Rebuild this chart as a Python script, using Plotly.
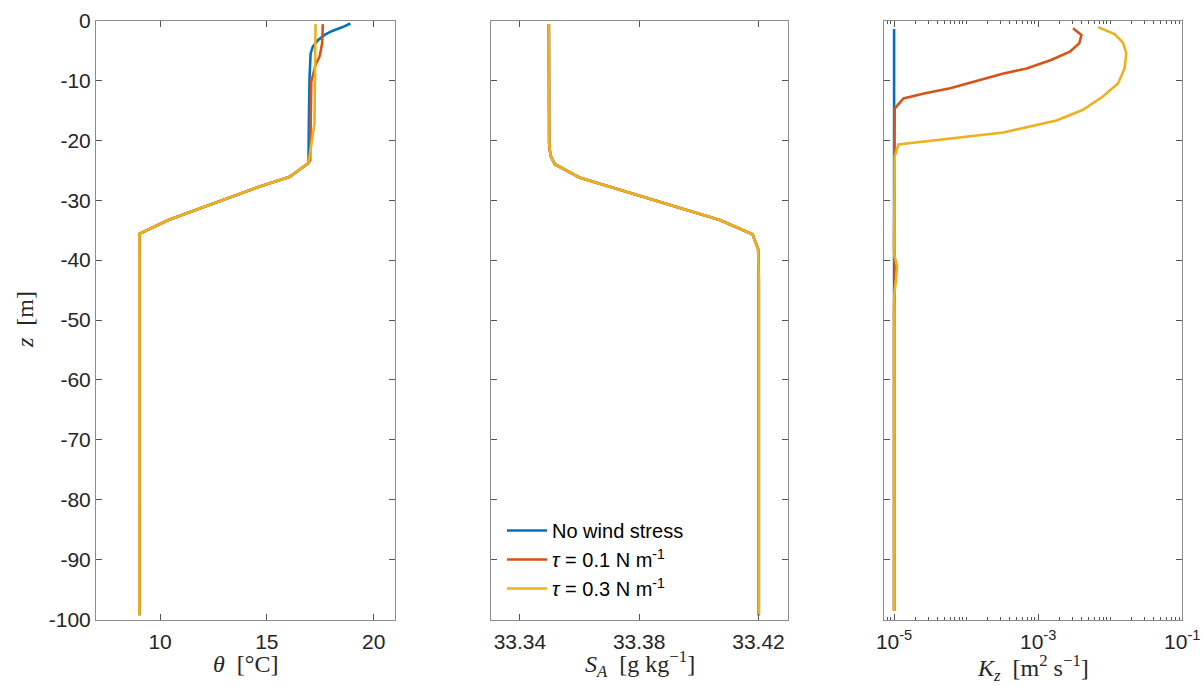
import plotly.graph_objects as go

# ---------------- data ----------------
names = ["No wind stress", "τ = 0.1 N m-1", "τ = 0.3 N m-1"]
legend_text = ["No wind stress",
               "<i>τ</i> = 0.1 N m<sup>-1</sup>",
               "<i>τ</i> = 0.3 N m<sup>-1</sup>"]
colors = ["#0072BD", "#D95319", "#EDB120"]

# Panel 1: potential temperature
z_theta_none = [-0.5, -1.1, -1.7, -2.4, -3.3, -4.4, -5.5, -9.4, -16.0, -23.8,
                -26.1, -27.7, -33.3, -35.6, -99.3]
theta_none = [18.91, 18.55, 18.09, 17.70, 17.39, 17.15, 17.05, 17.00, 16.97, 16.95,
              16.07, 14.67, 10.39, 9.03, 9.03]
z_theta_01 = [-0.6, -3.8, -6.0, -7.4, -10.2, -23.3, -23.8,
              -26.1, -27.7, -33.3, -35.6, -99.3]
theta_01 = [17.62, 17.59, 17.47, 17.28, 17.08, 17.03, 16.95,
            16.07, 14.67, 10.39, 9.03, 9.03]
z_theta_03 = [-0.6, -17.2, -23.8,
              -26.1, -27.7, -33.3, -35.6, -99.3]
theta_03 = [17.28, 17.23, 16.95,
            16.07, 14.67, 10.39, 9.03, 9.03]

# Panel 2: absolute salinity (identical for all cases)
z_salt = [-0.6, -18.0, -20.5, -21.6, -22.7, -24.0, -26.2, -33.3, -35.7, -38.2, -43.0, -99.3]
salt = [33.3497, 33.3497, 33.3498, 33.3500, 33.3504, 33.3517, 33.3599,
        33.4070, 33.4180, 33.4199, 33.4201, 33.4201]

# Panel 3: vertical diffusivity
z_kz_none = [-1.43, -14.29, -98.57]
kz_none = [1.0e-5, 1.0e-5, 1.0e-5]
z_kz_01 = [-1.3, -2.42, -3.8, -5.2, -6.6, -8.0, -8.9, -9.9, -11.3, -12.2, -13.0, -14.7,
           -38.0, -42.0, -48.0, -98.57]
kz_01 = [3.04e-3, 3.98e-3, 3.72e-3, 2.75e-3, 1.51e-3, 6.9e-4, 3.2e-4, 1.55e-4,
         6.0e-5, 2.6e-5, 1.35e-5, 1.02e-5, 1.0e-5, 1.03e-5, 1.0e-5, 1.0e-5]
z_kz_03 = [-1.1, -2.25, -3.7, -5.5, -8.0, -10.5, -12.7, -14.9, -16.7, -18.7, -20.7, -22.7,
           -39.0, -41.0, -43.0, -46.0, -98.57]
kz_03 = [6.76e-3, 1.15e-2, 1.50e-2, 1.67e-2, 1.58e-2, 1.28e-2, 7.9e-3, 4.19e-3,
         1.79e-3, 3.27e-4, 1.15e-5, 1.02e-5, 1.0e-5, 1.1e-5, 1.07e-5, 1.0e-5, 1.0e-5]

theta_sets = [(theta_none, z_theta_none), (theta_01, z_theta_01), (theta_03, z_theta_03)]
salt_sets = [(salt, z_salt)] * 3
kz_sets = [(kz_none, z_kz_none), (kz_01, z_kz_01), (kz_03, z_kz_03)]

theta_ticks = [10, 15, 20]
salt_ticks = [33.34, 33.38, 33.42]
salt_ticktext = ["33.34", "33.38", "33.42"]
kz_ticks = [1e-5, 1e-3, 1e-1]
kz_ticktext = ["10<sup>-5</sup>", "10<sup>-3</sup>", "10<sup>-1</sup>"]
z_ticks = list(range(-100, 1, 10))
z_ticktext = [str(v) for v in z_ticks]

# ---------------- figure ----------------
W, H = 1203, 686
fig = go.Figure()
LW = 2.6

for i in range(3):
    x, z = theta_sets[i]
    fig.add_trace(go.Scatter(x=x, y=z, mode="lines", line=dict(color=colors[i], width=LW),
                             xaxis="x", yaxis="y", showlegend=False, hoverinfo="skip"))
for i in range(3):
    x, z = salt_sets[i]
    fig.add_trace(go.Scatter(x=x, y=z, mode="lines", line=dict(color=colors[i], width=LW),
                             xaxis="x2", yaxis="y2", name=legend_text[i], showlegend=True))
for i in range(3):
    x, z = kz_sets[i]
    fig.add_trace(go.Scatter(x=x, y=z, mode="lines", line=dict(color=colors[i], width=LW),
                             xaxis="x3", yaxis="y3", showlegend=False))

def px_x(p):
    return p / W

def px_y(p):
    return 1 - p / H

dom_y = [px_y(619.5), px_y(20.5)]
doms_x = [[px_x(96), px_x(395)], [px_x(490.7), px_x(788.3)], [px_x(884), px_x(1182.3)]]

tickfont = dict(family="Liberation Sans, Arial, sans-serif", size=21, color="#262626")
axcommon = dict(showgrid=False, zeroline=False, showline=True, linecolor="#8c8c8c",
                linewidth=1, mirror="ticks", ticks="inside", ticklen=6,
                tickcolor="#555555", tickwidth=1, tickfont=tickfont, automargin=False)
xcommon = dict(ticklabelstandoff=3, **axcommon)

minor_kz = [m * 10 ** e for e in range(-6, -1) for m in range(2, 10)] + [1e-4, 1e-2]

fig.update_layout(
    template="none",
    width=W, height=H, margin=dict(l=0, r=0, t=0, b=0, autoexpand=False),
    plot_bgcolor="white", paper_bgcolor="white",
    xaxis=dict(domain=doms_x[0], range=[7, 21], tickvals=theta_ticks, anchor="y", **xcommon),
    yaxis=dict(domain=dom_y, range=[-100, 0], tickvals=z_ticks, ticktext=z_ticktext,
               anchor="x", **axcommon),
    xaxis2=dict(domain=doms_x[1], range=[33.3302, 33.4300], tickvals=salt_ticks,
                ticktext=salt_ticktext, anchor="y2", **xcommon),
    yaxis2=dict(domain=dom_y, range=[-100, 0], tickvals=z_ticks, anchor="x2",
                showticklabels=False, **axcommon),
    xaxis3=dict(domain=doms_x[2], type="log", range=[-5.14, -1], tickvals=kz_ticks,
                ticktext=kz_ticktext, anchor="y3",
                minor=dict(tickmode="array", tickvals=minor_kz, ticks="inside", ticklen=3,
                           tickcolor="#555555", tickwidth=1),
                **xcommon),
    yaxis3=dict(domain=dom_y, range=[-100, 0], tickvals=z_ticks, anchor="x3",
                showticklabels=False, **axcommon),
    legend=dict(x=px_x(502), y=px_y(608), xanchor="left", yanchor="bottom",
                bgcolor="rgba(0,0,0,0)", borderwidth=0,
                font=dict(family="Liberation Sans, Arial, sans-serif", size=20, color="#000000"),
                itemwidth=40, tracegroupgap=0),
)

serif = "Liberation Serif, Times New Roman, serif"
titles = [
    ("<i>θ</i>  [°C]", (96 + 395) / 2, 664),
    ("<i>S<sub>A</sub></i>  [g kg<sup>−1</sup>]", (490.7 + 788.3) / 2, 664),
    ("<i>K<sub>z</sub></i>  [m<sup>2</sup> s<sup>−1</sup>]", (884 + 1182.3) / 2, 668),
]
for txt, cx, cy in titles:
    fig.add_annotation(text=txt, x=px_x(cx), y=px_y(cy), xref="paper", yref="paper",
                       showarrow=False, xanchor="center", yanchor="middle",
                       font=dict(family=serif, size=24, color="#262626"))
fig.add_annotation(text="<i>z</i>  [m]", x=px_x(25), y=px_y(320), xref="paper", yref="paper",
                   showarrow=False, textangle=-90, xanchor="center", yanchor="middle",
                   font=dict(family=serif, size=24, color="#262626"))

fig.write_html("out.html")
